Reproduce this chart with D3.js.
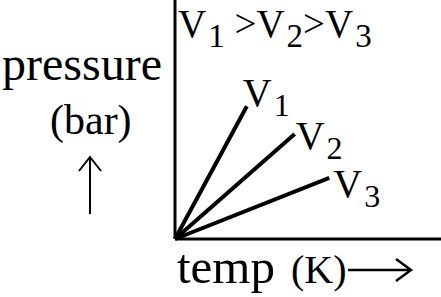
<!DOCTYPE html>
<html>
<head>
<meta charset="utf-8">
<script src="https://cdn.jsdelivr.net/npm/d3@7"></script>
<style>
  body { margin: 0; background: #fff; }
  text { font-family: "Liberation Serif", "Times New Roman", serif; fill: #000; }
</style>
</head>
<body>
<div id="chart"></div>
<script>
// volumes (end point of each isochore)
var volumes = ["1", "2", "3"];
var temps = [27, 45, 58];
var pressures = [50, 39.5, 23];

var W = 441, H = 297;
var origin = { x: 175, y: 239 };

var xScale = d3.scaleLinear().domain([0, 100]).range([origin.x, W]);
var yScale = d3.scaleLinear().domain([0, 90]).range([origin.y, 0]);

var svg = d3.select("#chart").append("svg")
    .attr("width", W).attr("height", H);

// axes
svg.append("line")
    .attr("x1", xScale(0)).attr("y1", yScale(0))
    .attr("x2", xScale(0)).attr("y2", yScale(90))
    .attr("stroke", "#000").attr("stroke-width", 3);
svg.append("line")
    .attr("x1", xScale(0)).attr("y1", yScale(0))
    .attr("x2", xScale(100)).attr("y2", yScale(0))
    .attr("stroke", "#000").attr("stroke-width", 3);

var data = volumes.map(function (v, i) {
    return { v: v, t: temps[i], p: pressures[i] };
});

svg.selectAll("line.iso")
    .data(data)
    .enter()
    .append("line")
    .attr("class", "iso")
    .attr("x1", xScale(0)).attr("y1", yScale(0))
    .attr("x2", function (d) { return xScale(d.t); })
    .attr("y2", function (d) { return yScale(d.p); })
    .attr("stroke", "#000").attr("stroke-width", 4);

// labels at the ends
var offs = [[-4, 0], [1, 15], [4, 19]];
var lab = svg.selectAll("text.lab")
    .data(data)
    .enter()
    .append("text")
    .attr("class", "lab")
    .attr("x", function (d, i) { return xScale(d.t) + offs[i][0]; })
    .attr("y", function (d, i) { return yScale(d.p) + offs[i][1]; })
    .style("font-size", "40px");
lab.append("tspan").text("V");
lab.append("tspan").attr("dx", 2).attr("dy", 10).style("font-size", "32px")
    .text(function (d) { return d.v; });

// V1 > V2 > V3
var rel = svg.append("text").attr("x", 178).attr("y", 37).style("font-size", "39px");
volumes.forEach(function (v, i) {
    rel.append("tspan").attr("y", 37).text("V");
    rel.append("tspan").attr("y", 47).attr("dx", 2).style("font-size", "33px").text(v);
    if (i < volumes.length - 1) {
        rel.append("tspan").attr("y", 37).text(i === 0 ? " >" : ">");
    }
});

// y axis title
svg.append("text").attr("x", 2).attr("y", 80).style("font-size", "48px").text("pressure");
svg.append("text").attr("x", 50).attr("y", 134).style("font-size", "42px").text("(bar)");
svg.append("line")
    .attr("x1", 90).attr("y1", 214).attr("x2", 90).attr("y2", 158)
    .attr("stroke", "#000").attr("stroke-width", 2);
svg.append("path")
    .attr("d", "M79,171 L90,157 L101,171")
    .attr("fill", "none").attr("stroke", "#000").attr("stroke-width", 2);

// x axis title
var xt = svg.append("text").attr("y", 283);
xt.append("tspan").attr("x", 177).style("font-size", "49px").text("temp");
xt.append("tspan").attr("x", 291).style("font-size", "40px").text("(K)");
svg.append("line")
    .attr("x1", 348).attr("y1", 270).attr("x2", 410).attr("y2", 270)
    .attr("stroke", "#000").attr("stroke-width", 2.5);
svg.append("path")
    .attr("d", "M396,259 L411,270 L396,281")
    .attr("fill", "none").attr("stroke", "#000").attr("stroke-width", 2.5);
</script>
</body>
</html>
